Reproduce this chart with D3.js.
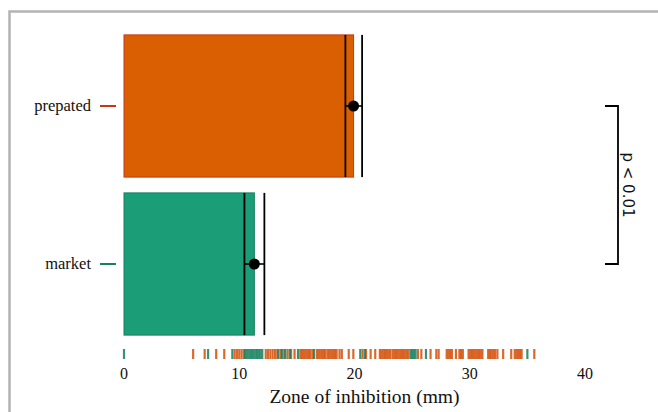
<!DOCTYPE html>
<html lang="en">
<head>
  <meta charset="UTF-8">
  <title>Zone of inhibition</title>
  <style>
    body { margin: 0; background: #fff; }
    text.cat, text.tick-text, text.axis-title {
      font-family: "Liberation Serif", "DejaVu Serif", serif;
      fill: #111;
    }
    text.cat { font-size: 16.5px; }
    text.tick-text { font-size: 16px; }
    text.axis-title { font-size: 19.5px; }
    text.pval {
      font-family: "DejaVu Sans", sans-serif;
      font-size: 15px;
      fill: #111;
    }
    line.ci { stroke: #000; stroke-width: 1.8; }
    line.whisker { stroke: #000; stroke-width: 1.6; }
    circle.mean { fill: #000; }
    path.bracket { stroke: #000; stroke-width: 1.8; fill: none; }
  </style>
</head>
<body>
<div id="plot"></div>

<script src="https://cdnjs.cloudflare.com/ajax/libs/d3/7.8.5/d3.min.js"></script>
<script>
// groups, summary values (mm)
var groups = ["prepated", "market"];
var means = [19.92, 11.31];
var ciLow = [19.21, 10.45];
var ciHigh = [20.66, 12.18];
var fills = ["#d95f02", "#1b9e77"];
var strokes = ["#c8361a", "#17805e"];
var xTicks = [0, 10, 20, 30, 40];
var pLabel = "p < 0.01";

// single observations for the rug
var rugPrepated = [6.0, 7.0, 8.0, 8.7, 9.6, 9.8, 10.0, 10.2, 10.4, 12.3, 12.5,
  12.7, 12.9, 13.1, 13.3, 13.6, 13.9, 14.2, 14.5, 14.8, 15.3, 15.45, 15.6, 15.75,
  15.9, 16.05, 16.2, 16.4, 16.75, 16.9, 17.05, 17.2, 17.35, 17.5, 17.7, 17.85,
  18.0, 18.15, 18.3, 18.45, 18.7, 18.9, 19.5, 19.9, 20.7, 21.0, 21.4, 21.8,
  22.2, 22.35, 22.5, 22.65, 22.8, 22.95, 23.1, 23.3, 23.45, 23.6, 23.75, 23.9,
  24.05, 24.2, 24.35, 24.5, 24.65, 25.5, 25.8, 26.6, 27.1, 27.3, 28.0, 28.15,
  28.3, 28.45, 28.8, 29.1, 29.25, 29.4, 29.9, 30.05, 30.2, 30.35, 30.5, 30.65,
  30.8, 30.95, 31.1, 31.6, 31.75, 31.9, 32.05, 32.2, 32.4, 32.9, 33.6, 33.9,
  34.05, 34.2, 34.35, 34.5, 35.6];
var rugMarket = [0, 7.3, 9.4, 10.5, 10.65, 10.8, 10.95, 11.1, 11.25, 11.4,
  11.55, 11.7, 11.85, 12.0, 13.4, 13.7, 14.0, 14.4, 15.1, 16.5, 20.5, 20.9,
  24.85, 25.0, 25.15, 25.3, 26.2, 35.0];

(function() {
  var width = 658, height = 412;

  var svg = d3.select("#plot").append("svg")
    .attr("width", width)
    .attr("height", height);

  // frame
  svg.append("rect")
    .attr("x", 9.5).attr("y", 11.5)
    .attr("width", 700).attr("height", 500)
    .attr("fill", "none")
    .attr("stroke", "#b3b3b3")
    .attr("stroke-width", 2.5);

  var x = d3.scaleLinear().domain([0, 40]).range([124, 585]);
  var y = d3.scaleBand().domain(groups).range([27, 343])
    .paddingInner(0.1).paddingOuter(0.05);

  // bars
  groups.forEach(function(g, i) {
    svg.append("rect")
      .attr("x", x(0))
      .attr("y", y(g))
      .attr("width", x(means[i]) - x(0))
      .attr("height", y.bandwidth())
      .attr("fill", fills[i])
      .attr("stroke", strokes[i])
      .attr("stroke-width", 1);

    [ciLow[i], ciHigh[i]].forEach(function(v) {
      svg.append("line").classed("ci", true)
        .attr("x1", x(v)).attr("x2", x(v))
        .attr("y1", y(g)).attr("y2", y(g) + y.bandwidth());
    });

    var cy = y(g) + y.bandwidth() / 2;
    svg.append("line").classed("whisker", true)
      .attr("x1", x(ciLow[i])).attr("x2", x(ciHigh[i]))
      .attr("y1", cy).attr("y2", cy);
    svg.append("circle").classed("mean", true)
      .attr("cx", x(means[i])).attr("cy", cy).attr("r", 5.5);

    // category tick + label
    svg.append("line")
      .attr("x1", 100).attr("x2", 116)
      .attr("y1", cy).attr("y2", cy)
      .attr("stroke", strokes[i]).attr("stroke-width", 2);
    svg.append("text").classed("cat", true)
      .attr("x", 91).attr("y", cy)
      .attr("dy", "0.32em")
      .attr("text-anchor", "end")
      .text(g);
  });

  // rug
  var rugs = [rugPrepated, rugMarket];
  rugs.forEach(function(vals, i) {
    svg.append("g").selectAll("line").data(vals).enter().append("line")
      .attr("x1", function(d) { return x(d); })
      .attr("x2", function(d) { return x(d); })
      .attr("y1", 349).attr("y2", 359)
      .attr("stroke", i === 0 ? "#d4500a" : strokes[1])
      .attr("stroke-width", 2.2)
      .attr("opacity", 0.85);
  });

  // x tick labels
  svg.selectAll("text.tick-text").data(xTicks).enter().append("text")
    .classed("tick-text", true)
    .attr("x", function(d) { return x(d); })
    .attr("y", 379)
    .attr("text-anchor", "middle")
    .text(function(d) { return d; });

  svg.append("text").classed("axis-title", true)
    .attr("x", (x(0) + x(40)) / 2 + 10)
    .attr("y", 403)
    .attr("text-anchor", "middle")
    .text("Zone of inhibition (mm)");

  // significance bracket
  var y1 = y(groups[0]) + y.bandwidth() / 2;
  var y2 = y(groups[1]) + y.bandwidth() / 2;
  var bx = 618;
  svg.append("path").classed("bracket", true)
    .attr("d", "M" + (bx - 13) + "," + y1 + "H" + bx + "V" + y2 + "H" + (bx - 13));
  svg.append("text").classed("pval", true)
    .attr("transform", "translate(" + (bx + 5) + "," + ((y1 + y2) / 2) + ") rotate(90)")
    .attr("text-anchor", "middle")
    .text(pLabel);
})();
</script>
</body>
</html>
